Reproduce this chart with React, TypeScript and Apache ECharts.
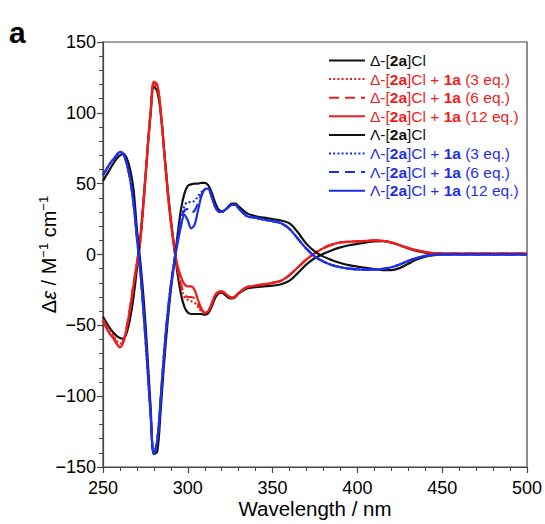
import React, { useEffect, useRef } from "react";
import * as echarts from "echarts";

const wavelengths = [
  250, 252, 254, 256, 258, 260, 262, 264, 266, 268,
  270, 272, 274, 276, 278, 280, 282, 284, 286, 288,
  290, 292, 294, 296, 298, 300, 302, 304, 306, 308,
  310, 312, 314, 316, 318, 320, 322, 324, 326, 328,
  330,
  335, 340, 345, 350, 355, 360, 365, 370, 375, 380,
  385, 390, 395, 400, 405, 410, 415, 420, 425, 430,
  435, 440, 445, 450, 455, 460, 465, 470, 475, 480,
  485, 490, 495, 500,
];

const deltaBlack = [
  -44, -48, -52, -55, -57.5, -59, -59.5, -55, -45, -30,
  -10, 12, 40, 70, 98, 118.5, 115, 100, 75, 48,
  25, 5, -14, -28, -37, -41, -42, -42, -42, -42,
  -42.5, -41.5, -37, -31, -27.5, -27, -28.5, -30.5, -31, -30,
  -27.5,
  -24, -23, -22.5, -22, -21, -18.5, -13, -7, -2.5, 0.5,
  3, 5, 6.5, 7.5, 8.5, 9.3, 9.5, 8.5, 6.5, 4.3,
  2.5, 1.3, 0.7, 0.5, 0.4, 0.4, 0.4, 0.4, 0.4, 0.4,
  0.4, 0.4, 0.4, 0.4,
];

const delta3 = [
  -46, -50, -54, -57, -61, -63, -60.5, -51, -37, -21,
  -6, 10, 38, 69, 99, 120, 118, 101, 73, 46,
  23, 5, -11, -23, -30, -32, -33, -34, -37, -40,
  -41.5, -40, -35, -29, -26.5, -26, -27.5, -29.5, -30.5, -29.5,
  -27,
  -23, -22, -21, -20, -18.5, -14.5, -9, -3.5, 1, 4.5,
  7, 8.5, 9, 9.3, 9.6, 10, 9.6, 8.5, 6.5, 4.5,
  3, 1.8, 1, 0.7, 0.6, 0.6, 0.6, 0.6, 0.6, 0.6,
  0.6, 0.6, 0.6, 0.6,
];

const delta6 = [
  -47, -51, -55, -58, -62, -64, -61, -51, -37, -21,
  -6, 10, 38, 70, 100, 121, 119, 101, 73, 46,
  23, 5, -10, -21, -28, -30, -30, -31, -35, -39,
  -41, -40, -35, -29, -26.5, -26, -27.5, -29.5, -30.5, -29.5,
  -27,
  -23, -22, -21, -20, -18.5, -14.5, -9, -3.5, 1, 4.5,
  7, 8.5, 9, 9.3, 9.6, 10, 9.6, 8.5, 6.5, 4.5,
  3, 1.8, 1, 0.7, 0.6, 0.6, 0.6, 0.6, 0.6, 0.6,
  0.6, 0.6, 0.6, 0.6,
];

const delta12 = [
  -47, -52, -56, -59, -63, -65.5, -62, -52, -38, -22,
  -6, 10, 38, 70, 100, 122, 120, 102, 74, 46,
  23, 5, -8, -16, -21, -22.5, -22.5, -25, -32, -38,
  -41, -40, -35, -29, -26.5, -26, -27.5, -29.5, -30.5, -29.5,
  -27,
  -23, -22, -21, -20, -18.5, -14.5, -9, -3.5, 1, 4.5,
  7, 8.5, 9, 9.3, 9.6, 10, 9.6, 8.5, 6.5, 4.5,
  3, 1.8, 1, 0.7, 0.6, 0.6, 0.6, 0.6, 0.6, 0.6,
  0.6, 0.6, 0.6, 0.6,
];

const lambdaBlack = [
  52, 56, 60, 64, 67.5, 70, 71, 68, 60, 46,
  18, -5, -32, -67, -106, -141, -139, -110, -77, -49,
  -25, -6, 14, 32, 43, 48.5, 49.5, 50, 50, 50.5,
  50.5, 49, 44, 37, 32, 30.5, 31.5, 34, 36, 36,
  34,
  29, 27, 26, 25, 24, 22, 15.5, 7.5, 2, -1.5,
  -4, -6, -7.5, -8.5, -9.5, -10.3, -11, -11, -9.5, -6.5,
  -3.5, -1.5, -0.5, 0, 0, 0, 0, 0, 0, 0,
  0, 0, 0, 0,
];

const lambda3 = [
  56, 60, 64, 67, 70, 72.5, 71, 64, 53, 36,
  12, -12, -42, -76, -112, -141, -131, -102, -70, -43,
  -22, -5, 11, 26, 34, 37, 37, 38, 41, 44,
  46, 46.5, 41, 34, 30.5, 30, 31.5, 33.5, 35, 35,
  32.5,
  27, 26, 24.5, 23.5, 22, 18, 11, 4, -1.5, -5,
  -7.5, -9, -10, -10.5, -10.7, -10.7, -10.2, -9, -7, -4.5,
  -2.5, -1, -0.3, 0, 0, 0, 0, 0, 0, 0,
  0, 0, 0, 0,
];

const lambda6 = [
  56, 60, 64, 67, 70, 72.5, 71, 64, 53, 36,
  12, -12, -42, -76, -112, -141, -131, -102, -70, -43,
  -22, -5, 10, 24, 31, 32, 29.5, 31, 36, 42,
  46, 46.5, 41, 34, 30.5, 30, 31.5, 33.5, 35, 35,
  32.5,
  27, 26, 24.5, 23.5, 22, 18, 11, 4, -1.5, -5,
  -7.5, -9, -10, -10.5, -10.7, -10.7, -10.2, -9, -7, -4.5,
  -2.5, -1, -0.3, 0, 0, 0, 0, 0, 0, 0,
  0, 0, 0, 0,
];

const lambda12 = [
  56, 60, 64, 67, 70, 72.5, 71, 64, 53, 36,
  12, -12, -42, -76, -112, -141, -131, -102, -70, -43,
  -22, -5, 8, 20, 28, 24, 18.5, 21, 31, 41,
  46, 46.5, 41, 34, 30.5, 30, 31.5, 33.5, 35, 35,
  32.5,
  27, 26, 24.5, 23.5, 22, 18, 11, 4, -1.5, -5,
  -7.5, -9, -10, -10.5, -10.7, -10.7, -10.2, -9, -7, -4.5,
  -2.5, -1, -0.3, 0, 0, 0, 0, 0, 0, 0,
  0, 0, 0, 0,
];

const seriesNames = [
  "Δ-[2a]Cl",
  "Δ-[2a]Cl + 1a (3 eq.)",
  "Δ-[2a]Cl + 1a (6 eq.)",
  "Δ-[2a]Cl + 1a (12 eq.)",
  "Λ-[2a]Cl",
  "Λ-[2a]Cl + 1a (3 eq.)",
  "Λ-[2a]Cl + 1a (6 eq.)",
  "Λ-[2a]Cl + 1a (12 eq.)",
];
const seriesValues = [deltaBlack, delta3, delta6, delta12, lambdaBlack, lambda3, lambda6, lambda12];

const xTicks = [250, 300, 350, 400, 450, 500];
const yTicks = [-150, -100, -50, 0, 50, 100, 150];

const BLACK = "#111111";
const RED = "#ee1d1d";
const BLUE = "#1f2fe6";
const seriesColors = [BLACK, RED, RED, RED, BLACK, BLUE, BLUE, BLUE];
const seriesDash: any[] = ["solid", [2, 2.2], [10, 6], "solid", "solid", [2, 2.2], [10, 6], "solid"];
const FONT = "'Liberation Sans', Arial, Helvetica, sans-serif";

export default function App() {
  const ref = useRef<HTMLDivElement>(null);
  useEffect(() => {
    if (!ref.current) return;
    const chart = echarts.init(ref.current, undefined, { renderer: "svg" });
    const richLegend = {
      k: { fontWeight: "bold", color: BLACK, fontSize: 15.5, fontFamily: FONT },
      r: { fontWeight: "bold", color: RED, fontSize: 15.5, fontFamily: FONT },
      u: { fontWeight: "bold", color: BLUE, fontSize: 15.5, fontFamily: FONT },
    };
    const option: any = {
      animation: false,
      backgroundColor: "#ffffff",
      grid: {
        left: 103,
        top: 42,
        right: 16,
        bottom: 57,
        show: true,
        borderColor: "#444",
        borderWidth: 1.2,
        containLabel: false,
      },
      graphic: [
        {
          type: "text",
          left: 9,
          top: 17,
          style: { text: "a", font: `bold 30px ${FONT}`, fill: "#000" },
        },
      ],
      legend: {
        orient: "vertical",
        left: 328,
        top: 52,
        padding: 0,
        itemWidth: 36,
        itemHeight: 12,
        itemGap: 1.6,
        selectedMode: false,
        itemStyle: { opacity: 0 },
        textStyle: { fontSize: 15.5, fontFamily: FONT, lineHeight: 17, rich: richLegend },
        data: seriesNames.map((n, i) => ({
          name: n,
          textStyle: { color: seriesColors[i] },
        })),
        formatter: (name: string) => {
          const key = name.indexOf("+") < 0 ? "k" : name.startsWith("Δ") ? "r" : "u";
          return name.replace("[2a]", `[{${key}|2a}]`).replace("+ 1a", `+ {${key}|1a}`);
        },
      },
      xAxis: {
        type: "value",
        min: 250,
        max: 500,
        interval: 50,
        name: "Wavelength / nm",
        nameLocation: "middle",
        nameGap: 31,
        nameMoveOverlap: false,
        nameTextStyle: { fontSize: 20.5, color: "#000", fontFamily: FONT },
        axisLine: { show: true, onZero: false, lineStyle: { color: "#444", width: 1.2 } },
        axisTick: { show: true, inside: false, length: 6, lineStyle: { color: "#444", width: 1.2 } },
        minorTick: { show: true, splitNumber: 5, length: 4, lineStyle: { color: "#444", width: 1 } },
        axisLabel: {
          fontSize: 18,
          color: "#000",
          fontFamily: FONT,
          margin: 12,
          customValues: xTicks,
        },
        splitLine: { show: false },
      },
      yAxis: {
        type: "value",
        min: -150,
        max: 150,
        interval: 50,
        name: "{n|Δ}{i|ε}{n| / M}{s|−1}{n| cm}{s|−1}",
        nameLocation: "middle",
        nameRotate: 90,
        nameGap: 42,
        nameMoveOverlap: false,
        nameTextStyle: {
          color: "#000",
          rich: {
            n: { fontSize: 20, fontFamily: FONT, color: "#000", lineHeight: 24 },
            i: { fontSize: 20, fontFamily: FONT, fontStyle: "italic", color: "#000", lineHeight: 24 },
            s: { fontSize: 13, fontFamily: FONT, color: "#000", lineHeight: 13, verticalAlign: "top" },
          },
        },
        axisLine: { show: true, onZero: false, lineStyle: { color: "#444", width: 1.2 } },
        axisTick: { show: true, inside: false, length: 6, lineStyle: { color: "#444", width: 1.2 } },
        minorTick: { show: true, splitNumber: 5, length: 4, lineStyle: { color: "#444", width: 1 } },
        axisLabel: {
          fontSize: 18,
          color: "#000",
          fontFamily: FONT,
          margin: 7,
          customValues: yTicks,
          formatter: (v: number) => (v < 0 ? "\u2212" + Math.abs(v) : String(v)),
        },
        splitLine: { show: false },
      },
      series: seriesNames.map((n, i) => ({
        name: n,
        type: "line",
        data: wavelengths.map((w, j) => [w, seriesValues[i][j]]),
        showSymbol: false,
        symbol: "none",
        smooth: 0.35,
        color: seriesColors[i],
        lineStyle: { color: seriesColors[i], width: 2.2, type: seriesDash[i] },
        z: 2 + i,
      })),
    };
    chart.setOption(option);
    return () => chart.dispose();
  }, []);
  return <div ref={ref} style={{ width: 545, height: 524, position: "absolute", left: 0, top: 0 }} />;
}
